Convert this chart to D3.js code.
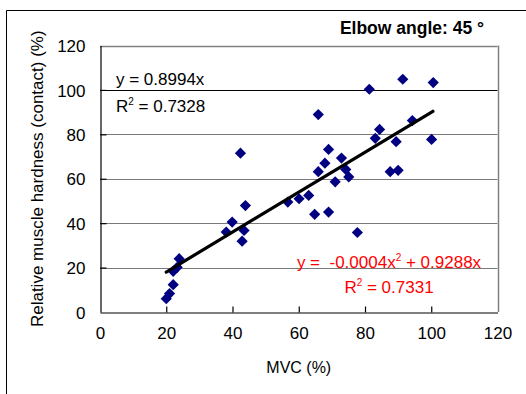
<!DOCTYPE html>
<html>
<head>
<meta charset="utf-8">
<script src="https://cdn.jsdelivr.net/npm/d3@7"></script>
<style>
  html, body { margin: 0; padding: 0; background: #fff; }
  svg { display: block; font-family: "Liberation Sans", Arial, sans-serif; }
</style>
</head>
<body>
<svg id="chart" width="526" height="394"></svg>
<script>
// ---- data ----
const mvc = [20.0, 21.0, 22.1, 22.1, 23.3, 23.9, 38.1, 39.9, 42.4, 42.9, 43.5, 43.9,
             56.7, 60.1, 63.0, 64.8, 65.9, 65.9, 67.9, 69.0, 69.0, 71.0, 72.9, 74.2,
             75.1, 77.7, 81.3, 83.1, 84.4, 87.6, 89.4, 90.0, 91.4, 94.3, 100.1, 100.6];
const hardness = [6.0, 8.3, 12.3, 18.3, 20.1, 24.0, 36.0, 40.5, 71.5, 31.9, 36.7, 47.9,
                  49.5, 51.0, 52.5, 44.0, 88.9, 63.2, 67.0, 73.2, 45.0, 58.6, 69.3, 64.2,
                  60.8, 35.8, 100.3, 78.2, 82.2, 63.2, 76.7, 63.8, 104.8, 86.2, 77.7, 103.3];
const xTicks = [0, 20, 40, 60, 80, 100, 120];
const yTicks = [0, 20, 40, 60, 80, 100, 120];
const linearSlope = 0.8994;
const trendRange = [20, 100.5];
const titleText = "Elbow angle: 45 °";
const xTitle = "MVC (%)";
const yTitle = "Relative muscle hardness (contact) (%)";

// ---- layout ----
const svg = d3.select("#chart");
const x = d3.scaleLinear().domain([0, 120]).range([100, 497.5]);
const y = d3.scaleLinear().domain([0, 120]).range([312, 45.5]);
const FS = 17;

// outer frame (top + left only visible)
svg.append("line").attr("x1", 6.5).attr("x2", 526).attr("y1", 10.5).attr("y2", 10.5)
  .attr("stroke", "#000").attr("stroke-width", 1);
svg.append("line").attr("x1", 6.5).attr("x2", 6.5).attr("y1", 10.5).attr("y2", 394)
  .attr("stroke", "#000").attr("stroke-width", 1);

// gridlines
const g = svg.append("g");
g.selectAll("line.grid").data(yTicks.filter(d => d > 0 && d < 120)).join("line")
  .attr("class", "grid")
  .attr("x1", x(0)).attr("x2", x(120))
  .attr("y1", d => Math.round(y(d)) + 0.5).attr("y2", d => Math.round(y(d)) + 0.5)
  .attr("stroke", d => d === 100 ? "#000" : "#7a7a7a")
  .attr("stroke-width", 1);

// plot border top + right (gray)
g.append("line").attr("x1", x(0)).attr("x2", x(120))
  .attr("y1", Math.round(y(120)) + 0.5).attr("y2", Math.round(y(120)) + 0.5)
  .attr("stroke", "#808080").attr("stroke-width", 1.3);
g.append("line").attr("x1", Math.round(x(120)) + 0.5).attr("x2", Math.round(x(120)) + 0.5)
  .attr("y1", y(120)).attr("y2", y(0))
  .attr("stroke", "#808080").attr("stroke-width", 1.5);

// axes (inside ticks)
const xAxis = d3.axisBottom(x).tickValues(xTicks).tickSizeInner(-6).tickSizeOuter(0).tickPadding(14);
const yAxis = d3.axisLeft(y).tickValues(yTicks).tickSizeInner(-6).tickSizeOuter(0).tickPadding(15);

const gx = svg.append("g").attr("transform", `translate(0,${Math.round(y(0)) + 0.5})`).call(xAxis);
const gy = svg.append("g").attr("transform", `translate(${Math.round(x(0)) + 0.5},0)`).call(yAxis);
[gx, gy].forEach(a => {
  a.select(".domain").attr("stroke", "#000").attr("stroke-width", 1.2);
  a.selectAll(".tick line").attr("stroke", "#000").attr("stroke-width", 1.2);
  a.selectAll(".tick text").attr("font-size", FS).attr("fill", "#000")
    .attr("font-family", "Liberation Sans, Arial, sans-serif");
});
gx.selectAll(".tick text").attr("dy", "0.71em");
gy.selectAll(".tick text").attr("dy", "0.36em");
// hide tick marks at 120 and 0 ends that overlap border
gx.selectAll(".tick").filter(d => d === 0 || d === 120).select("line").remove();
gy.selectAll(".tick").filter(d => d === 0 || d === 120).select("line").remove();

// markers
const diamond = "M0,-5.6L5.6,0L0,5.6L-5.6,0Z";
svg.append("g").selectAll("path").data(mvc.map((v, i) => [v, hardness[i]])).join("path")
  .attr("d", diamond)
  .attr("transform", d => `translate(${x(d[0])},${y(d[1])})`)
  .attr("fill", "#000080");

// trendline
const trend = trendRange.map(v => [v, linearSlope * v]);
svg.append("path").datum(trend)
  .attr("d", d3.line().x(d => x(d[0])).y(d => y(d[1])))
  .attr("stroke", "#000").attr("stroke-width", 3.2).attr("fill", "none")
  .attr("stroke-linecap", "round");

// title
svg.append("text").attr("x", 484).attr("y", 33.5).attr("text-anchor", "end")
  .attr("font-size", 17.5).attr("font-weight", "bold").attr("fill", "#000")
  .text(titleText);

// axis titles
svg.append("text").attr("x", (x(0) + x(120)) / 2).attr("y", 373).attr("text-anchor", "middle")
  .attr("font-size", 16).attr("fill", "#000").text(xTitle);
svg.append("text").attr("transform", `translate(43,${(y(0) + y(120)) / 2}) rotate(-90)`)
  .attr("text-anchor", "middle").attr("font-size", 17).attr("fill", "#000").text(yTitle);

// linear equation (black)
const t1 = svg.append("text").attr("x", 116).attr("y", 85).attr("font-size", FS).attr("fill", "#000");
t1.text("y = 0.8994x");
const t2 = svg.append("text").attr("x", 116).attr("y", 112).attr("font-size", FS).attr("fill", "#000");
t2.append("tspan").text("R");
t2.append("tspan").attr("font-size", 10).attr("dy", -7).text("2");
t2.append("tspan").attr("dy", 7).text(" = 0.7328");

// polynomial equation (red)
const r1 = svg.append("text").attr("x", 389).attr("y", 268).attr("text-anchor", "middle")
  .attr("font-size", FS).attr("fill", "#ff0000").attr("xml:space", "preserve");
r1.append("tspan").text("y =  -0.0004x");
r1.append("tspan").attr("font-size", 10).attr("dy", -7).text("2");
r1.append("tspan").attr("dy", 7).text(" + 0.9288x");
const r2 = svg.append("text").attr("x", 389).attr("y", 293).attr("text-anchor", "middle")
  .attr("font-size", FS).attr("fill", "#ff0000");
r2.append("tspan").text("R");
r2.append("tspan").attr("font-size", 10).attr("dy", -7).text("2");
r2.append("tspan").attr("dy", 7).text(" = 0.7331");
</script>
</body>
</html>
